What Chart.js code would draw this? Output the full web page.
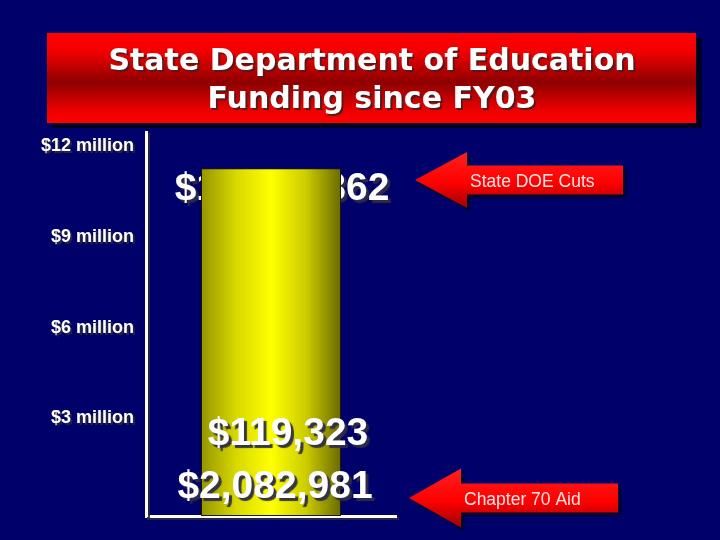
<!DOCTYPE html>
<html>
<head>
<meta charset="utf-8">
<script src="https://cdn.jsdelivr.net/npm/chart.js@4.4.1/dist/chart.umd.min.js"></script>
<style>
  html, body { margin: 0; padding: 0; background: #00006b; }
  canvas { display: block; }
</style>
</head>
<body>
<canvas id="c" width="720" height="540"></canvas>
<script>
// ---- data ----
const categories = ['FY03'];
const fundingMillions = [11.5];
const yTickValues = [3, 6, 9, 12];
const yTickLabels = ['$3 million', '$6 million', '$9 million', '$12 million'];
const amountLabels = ['$11,350,862', '$119,323', '$2,082,981'];
const calloutLabels = ['State DOE Cuts', 'Chapter 70 Aid'];
const titleLines = ['State Department of Education', 'Funding since FY03'];

const BG = '#00006b';

function makeBarGradient(ctx, left, right) {
  const g = ctx.createLinearGradient(left, 0, right, 0);
  g.addColorStop(0, '#959500');
  g.addColorStop(0.25, '#d8d800');
  g.addColorStop(0.5, '#ffff00');
  g.addColorStop(0.75, '#cccc00');
  g.addColorStop(1, '#6a6a00');
  return g;
}

function drawArrow(ctx, tipX, tipY, headX, headHalf, shaftHalf, endX, label) {
  ctx.save();
  ctx.shadowColor = 'rgba(0,0,20,0.8)';
  ctx.shadowOffsetX = 3;
  ctx.shadowOffsetY = 3;
  ctx.shadowBlur = 3;
  const g = ctx.createLinearGradient(0, tipY - headHalf, 0, tipY + headHalf);
  g.addColorStop(0, '#ff2020');
  g.addColorStop(0.55, '#ff0000');
  g.addColorStop(1, '#a00000');
  ctx.fillStyle = g;
  ctx.beginPath();
  ctx.moveTo(tipX, tipY);
  ctx.lineTo(headX, tipY - headHalf);
  ctx.lineTo(headX, tipY - shaftHalf);
  ctx.lineTo(endX, tipY - shaftHalf);
  ctx.lineTo(endX, tipY + shaftHalf);
  ctx.lineTo(headX, tipY + shaftHalf);
  ctx.lineTo(headX, tipY + headHalf);
  ctx.closePath();
  ctx.fill();
  ctx.restore();
  ctx.save();
  ctx.fillStyle = '#ffe6e6';
  ctx.font = '17.5px "Liberation Sans", Arial, sans-serif';
  ctx.textAlign = 'left';
  ctx.textBaseline = 'alphabetic';
  ctx.fillText(label, headX + 3, tipY + 7);
  ctx.restore();
}

function shadowText(ctx, text, x, y, font) {
  ctx.save();
  ctx.font = font;
  ctx.textAlign = 'center';
  ctx.textBaseline = 'alphabetic';
  ctx.shadowColor = 'rgba(45,45,70,0.95)';
  ctx.shadowOffsetX = 3;
  ctx.shadowOffsetY = 3;
  ctx.shadowBlur = 1;
  ctx.fillStyle = '#ffffff';
  ctx.fillText(text, x, y);
  ctx.restore();
}

const decor = {
  id: 'decor',
  beforeDraw(chart) {
    const ctx = chart.ctx;
    ctx.save();
    ctx.fillStyle = BG;
    ctx.fillRect(0, 0, chart.width, chart.height);
    ctx.fillStyle = '#000022';
    ctx.fillRect(52, 38, 650, 90);
    const g = ctx.createLinearGradient(0, 33, 0, 123);
    g.addColorStop(0, '#ff0000');
    g.addColorStop(0.2, '#f40000');
    g.addColorStop(0.55, '#8e0000');
    g.addColorStop(0.85, '#ea0000');
    g.addColorStop(1, '#ff0000');
    ctx.fillStyle = g;
    ctx.fillRect(47, 33, 649, 90);
    ctx.restore();
    ctx.save();
    ctx.font = 'bold 30px "DejaVu Sans", Verdana, sans-serif';
    ctx.textAlign = 'center';
    ctx.textBaseline = 'alphabetic';
    ctx.shadowColor = 'rgba(70,30,30,0.9)';
    ctx.shadowOffsetX = 2;
    ctx.shadowOffsetY = 2;
    ctx.fillStyle = '#ffffff';
    ctx.fillText(titleLines[0], 372, 70);
    ctx.fillText(titleLines[1], 372, 108);
    ctx.restore();
    drawArrow(ctx, 415, 180, 467, 28, 14.5, 623, calloutLabels[0]);
    drawArrow(ctx, 409, 498, 461, 29.5, 14.5, 618, calloutLabels[1]);
    ctx.save();
    ctx.shadowColor = 'rgba(40,40,60,0.9)';
    ctx.shadowOffsetX = 2;
    ctx.shadowOffsetY = 2;
  },
  beforeDatasetsDraw(chart) {
    const ctx = chart.ctx;
    ctx.restore();
    const bar = chart.getDatasetMeta(0).data[0];
    if (bar && isFinite(bar.x) && isFinite(bar.width)) {
      bar.options.backgroundColor = makeBarGradient(ctx, bar.x - bar.width / 2, bar.x + bar.width / 2);
    }
    const font = 'bold 39px "Liberation Sans", Arial, sans-serif';
    shadowText(ctx, amountLabels[0], bar.x + 11, 200, font);
  },
  afterDatasetsDraw(chart) {
    const ctx = chart.ctx;
    const bar = chart.getDatasetMeta(0).data[0];
    const font = 'bold 39px "Liberation Sans", Arial, sans-serif';
    shadowText(ctx, amountLabels[1], bar.x + 17, 445, font);
    shadowText(ctx, amountLabels[2], bar.x + 4, 498, font);
  }
};

new Chart(document.getElementById('c'), {
  type: 'bar',
  data: {
    labels: categories,
    datasets: [{
      data: fundingMillions,
      backgroundColor: '#ffff00',
      borderColor: '#1a1a00',
      borderWidth: 1,
      borderSkipped: false,
      barPercentage: 0.56,
      categoryPercentage: 1
    }]
  },
  options: {
    responsive: false,
    devicePixelRatio: 1,
    animation: false,
    layout: { padding: { left: 0, top: 132, right: 324, bottom: 24 } },
    plugins: { legend: { display: false }, tooltip: { enabled: false }, title: { display: false } },
    scales: {
      x: {
        grid: { display: false },
        border: { display: true, color: '#ffffff', width: 3 },
        ticks: { display: false },
        afterFit(scale) { scale.height = 0; }
      },
      y: {
        min: 0,
        max: 12.7,
        grid: { display: false },
        border: { display: true, color: '#ffffff', width: 3 },
        afterBuildTicks(scale) { scale.ticks = yTickValues.map(v => ({ value: v })); },
        afterFit(scale) { scale.width = 146; },
        ticks: {
          color: '#ffffff',
          padding: 4,
          labelOffset: -7,
          font: { family: '"Liberation Sans", Arial, sans-serif', size: 18, weight: 'bold' },
          callback(value) {
            const i = yTickValues.indexOf(value);
            return i >= 0 ? yTickLabels[i] : '';
          }
        }
      }
    }
  },
  plugins: [decor]
});
</script>
</body>
</html>
